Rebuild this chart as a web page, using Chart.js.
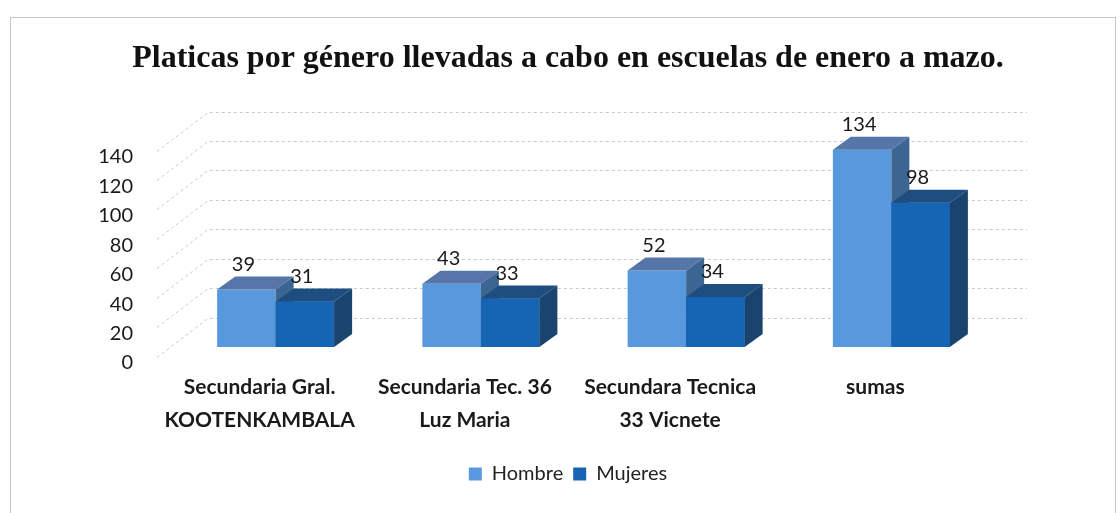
<!DOCTYPE html>
<html>
<head>
<meta charset="utf-8">
<script src="https://cdn.jsdelivr.net/npm/chart.js@4.4.1/dist/chart.umd.min.js"></script>
<style>
  html, body { margin: 0; padding: 0; background: #fff; }
  #wrap { position: relative; width: 1120px; height: 513px; overflow: hidden; }
  #frame { position: absolute; left: 10px; top: 17px; width: 1104px; height: 520px; border: 1px solid #c6c6c6; pointer-events: none; }
</style>
</head>
<body>
<div id="wrap">
  <canvas id="chart" width="1120" height="513"></canvas>
  <div id="frame"></div>
</div>
<script>
// chart data
const categories = [
    ['Secundaria Gral.', 'KOOTENKAMBALA'],
    ['Secundaria Tec. 36', 'Luz Maria'],
    ['Secundara Tecnica', '33 Vicnete'],
    'sumas'
];
const hombre = [39, 43, 52, 134];
const mujeres = [31, 33, 34, 98];
const yTickLabels = [0, 20, 40, 60, 80, 100, 120, 140];
const yMax = 160;

// 3d look
const DX = 18, DY = 13;
const faceColors = [
    { top: '#5675a9', side: '#3d6592' },  // Hombre
    { top: '#1e4e80', side: '#1a436e' }   // Mujeres
];

function drawFaces(ctx, bar, c) {
    const { x, y, base, width } = bar.getProps(['x', 'y', 'base', 'width'], true);
    const l = x - width / 2, r = x + width / 2;
    ctx.fillStyle = c.top;
    ctx.beginPath();
    ctx.moveTo(l, y);
    ctx.lineTo(l + DX, y - DY);
    ctx.lineTo(r + DX, y - DY);
    ctx.lineTo(r, y);
    ctx.closePath();
    ctx.fill();
    ctx.fillStyle = c.side;
    ctx.beginPath();
    ctx.moveTo(r, y);
    ctx.lineTo(r + DX, y - DY);
    ctx.lineTo(r + DX, base - DY);
    ctx.lineTo(r, base);
    ctx.closePath();
    ctx.fill();
}

// back wall dashed lines + left side wall diagonals
const wallPlugin = {
    id: 'wall',
    beforeDatasetsDraw(chart) {
        const { ctx, chartArea, scales } = chart;
        const y = scales.y;
        ctx.save();
        ctx.strokeStyle = '#c5c9d2';
        ctx.lineWidth = 1;
        ctx.setLineDash([3, 3]);
        y.ticks.forEach(t => {
            if (t.value === 0) return;
            const py = Math.round(y.getPixelForValue(t.value)) + 0.5;
            ctx.beginPath();
            ctx.moveTo(chartArea.left - 16, py + 39);
            ctx.lineTo(chartArea.left + 35, py);
            ctx.lineTo(chartArea.right + 33, py);
            ctx.stroke();
        });
        ctx.restore();
    }
};

// top/side faces, drawn per category so Mujeres covers Hombre's side
const bar3dPlugin = {
    id: 'bar3d',
    afterDatasetsDraw(chart) {
        const ctx = chart.ctx;
        const m0 = chart.getDatasetMeta(0);
        const m1 = chart.getDatasetMeta(1);
        ctx.save();
        m0.data.forEach((bar, i) => {
            drawFaces(ctx, bar, faceColors[0]);
            m1.data[i].draw(ctx);
            drawFaces(ctx, m1.data[i], faceColors[1]);
        });
        ctx.fillStyle = '#1a1a1a';
        ctx.font = '20px Lato';
        ctx.textAlign = 'center';
        ctx.textBaseline = 'middle';
        [m0, m1].forEach((m, d) => {
            m.data.forEach((bar, i) => {
                ctx.fillText(chart.data.datasets[d].data[i], bar.x - 3, bar.y - 25);
            });
        });
        ctx.restore();
    }
};

new Chart(document.getElementById('chart').getContext('2d'), {
    type: 'bar',
    data: {
        labels: categories,
        datasets: [
            { label: 'Hombre', data: hombre, backgroundColor: '#5898dc' },
            { label: 'Mujeres', data: mujeres, backgroundColor: '#1664b4' }
        ]
    },
    options: {
        responsive: false,
        animation: false,
        layout: { padding: { left: 16, right: 0, top: 0, bottom: 19 } },
        datasets: { bar: { categoryPercentage: 0.57, barPercentage: 1 } },
        plugins: {
            title: {
                display: true,
                text: 'Platicas por género llevadas a cabo en escuelas de enero a mazo.',
                font: { family: 'Liberation Serif', size: 32, weight: 'bold' },
                color: '#111',
                padding: { top: 40, bottom: 33.2 }
            },
            legend: {
                position: 'bottom',
                labels: {
                    boxWidth: 13,
                    boxHeight: 13,
                    padding: 10,
                    color: '#222',
                    font: { family: 'Lato', size: 20 }
                }
            },
            tooltip: { enabled: false }
        },
        scales: {
            x: {
                grid: { display: false, drawTicks: false },
                border: { display: false },
                ticks: {
                    color: '#1a1a1a',
                    font: { family: 'Lato', size: 21, weight: 'bold', lineHeight: 1.6 },
                    padding: 23,
                    labelOffset: -16,
                    maxRotation: 0,
                    autoSkip: false
                },
                afterFit(s) { s.height = 107; }
            },
            y: {
                min: 0,
                max: yMax,
                grid: { display: false, drawTicks: false },
                border: { display: false },
                ticks: {
                    stepSize: 20,
                    padding: 40,
                    labelOffset: 16,
                    color: '#1a1a1a',
                    font: { family: 'Lato', size: 20 },
                    callback: v => yTickLabels.includes(v) ? v : ''
                },
                afterFit(s) { s.width = 157; }
            },
            yRight: {
                position: 'right',
                grid: { display: false },
                border: { display: false },
                ticks: { display: false },
                afterFit(s) { s.width = 126; }
            }
        }
    },
    plugins: [wallPlugin, bar3dPlugin]
});
</script>
</body>
</html>
